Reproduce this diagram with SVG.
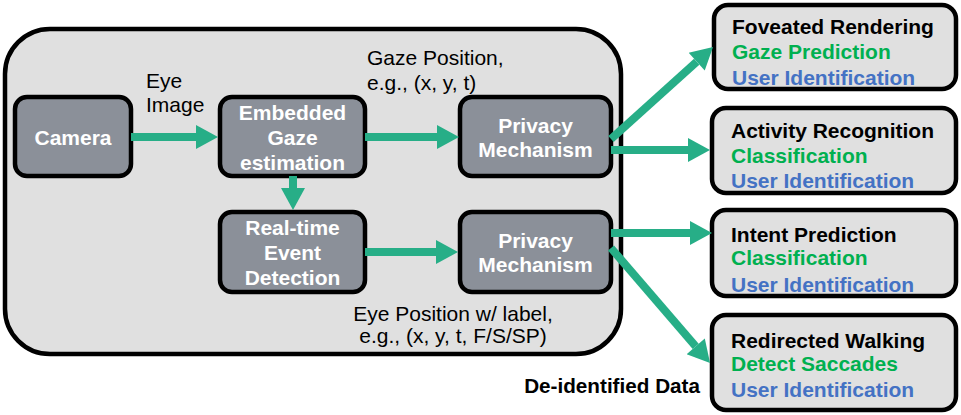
<svg xmlns="http://www.w3.org/2000/svg" width="961" height="415" viewBox="0 0 961 415">
<defs>
<marker id="ah" markerUnits="userSpaceOnUse" markerWidth="24" markerHeight="24" refX="0" refY="12" orient="auto" viewBox="0 0 22 24">
<path d="M0,0 L22,12 L0,24 z" fill="#27ae87"/>
</marker>
<style>
text{font-family:"Liberation Sans",Arial,Helvetica,sans-serif}
.cont{fill:#e0e0e0;stroke:#000;stroke-width:4.5}
.node rect{fill:#8b9099;stroke:#000;stroke-width:4.5}
.node text{fill:#fff;font-weight:bold;font-size:21px;text-anchor:middle}
.app rect{fill:#e0e0e0;stroke:#000;stroke-width:4.5}
.app text{font-weight:bold;font-size:21px}
.t{fill:#000}
.g{fill:#00b050}
.b{fill:#4472c4}
.lbl{font-size:21px;fill:#000}
.conn line{stroke:#27ae87;stroke-width:8;marker-end:url(#ah)}
</style>
</defs>
<rect id="container" class="cont" x="5" y="29" width="616" height="325" rx="45"/>
<g id="camera" class="node"><rect x="15" y="97" width="116" height="79" rx="12"/><text x="73" y="145">Camera</text></g>
<g id="embedded" class="node"><rect x="220" y="97" width="145" height="79" rx="12"/><text x="292.5" y="120">Embedded</text><text x="292.5" y="145">Gaze</text><text x="292.5" y="170">estimation</text></g>
<g id="privacy1" class="node"><rect x="460" y="97" width="151" height="79" rx="12"/><text x="535.5" y="133">Privacy</text><text x="535.5" y="157">Mechanism</text></g>
<g id="realtime" class="node"><rect x="220" y="212" width="145" height="80" rx="12"/><text x="292.5" y="235">Real-time</text><text x="292.5" y="260">Event</text><text x="292.5" y="285">Detection</text></g>
<g id="privacy2" class="node"><rect x="460" y="212" width="151" height="80" rx="12"/><text x="535.5" y="248">Privacy</text><text x="535.5" y="272">Mechanism</text></g>
<g id="labels">
<text class="lbl" x="146" y="88">Eye</text>
<text class="lbl" x="146" y="112">Image</text>
<text class="lbl" x="367" y="65">Gaze Position,</text>
<text class="lbl" x="367" y="90">e.g., (x, y, t)</text>
<text class="lbl" x="453" y="321" text-anchor="middle">Eye Position w/ label,</text>
<text class="lbl" x="453" y="343" text-anchor="middle">e.g., (x, y, t, F/S/SP)</text>
<text x="700" y="393" text-anchor="end" font-weight="bold" font-size="20.7">De-identified Data</text>
</g>
<g id="app1" class="app"><rect x="714" y="5" width="242" height="84" rx="14"/><text class="t" x="732" y="34">Foveated Rendering</text><text class="g" x="732" y="59">Gaze Prediction</text><text class="b" x="732" y="85">User Identification</text></g>
<g id="app2" class="app"><rect x="712" y="108" width="244" height="85" rx="14"/><text class="t" x="731" y="138">Activity Recognition</text><text class="g" x="731" y="163">Classification</text><text class="b" x="731" y="188">User Identification</text></g>
<g id="app3" class="app"><rect x="712" y="210" width="244" height="86" rx="14"/><text class="t" x="731" y="242">Intent Prediction</text><text class="g" x="731" y="265">Classification</text><text class="b" x="731" y="292">User Identification</text></g>
<g id="app4" class="app"><rect x="712" y="315" width="244" height="95" rx="14"/><text class="t" x="731" y="348">Redirected Walking</text><text class="g" x="731" y="371">Detect Saccades</text><text class="b" x="731" y="397">User Identification</text></g>
<g id="connectors" class="conn">
<line x1="131" y1="137" x2="196" y2="137"/>
<line x1="365" y1="137" x2="437" y2="137"/>
<line x1="293" y1="176" x2="293" y2="188"/>
<line x1="365" y1="252" x2="436" y2="252"/>
<line x1="611" y1="139" x2="696.7" y2="61.7"/>
<line x1="611" y1="150" x2="688" y2="150"/>
<line x1="611" y1="233" x2="690" y2="233"/>
<line x1="611" y1="248" x2="695.7" y2="346.3"/>
</g>
</svg>
